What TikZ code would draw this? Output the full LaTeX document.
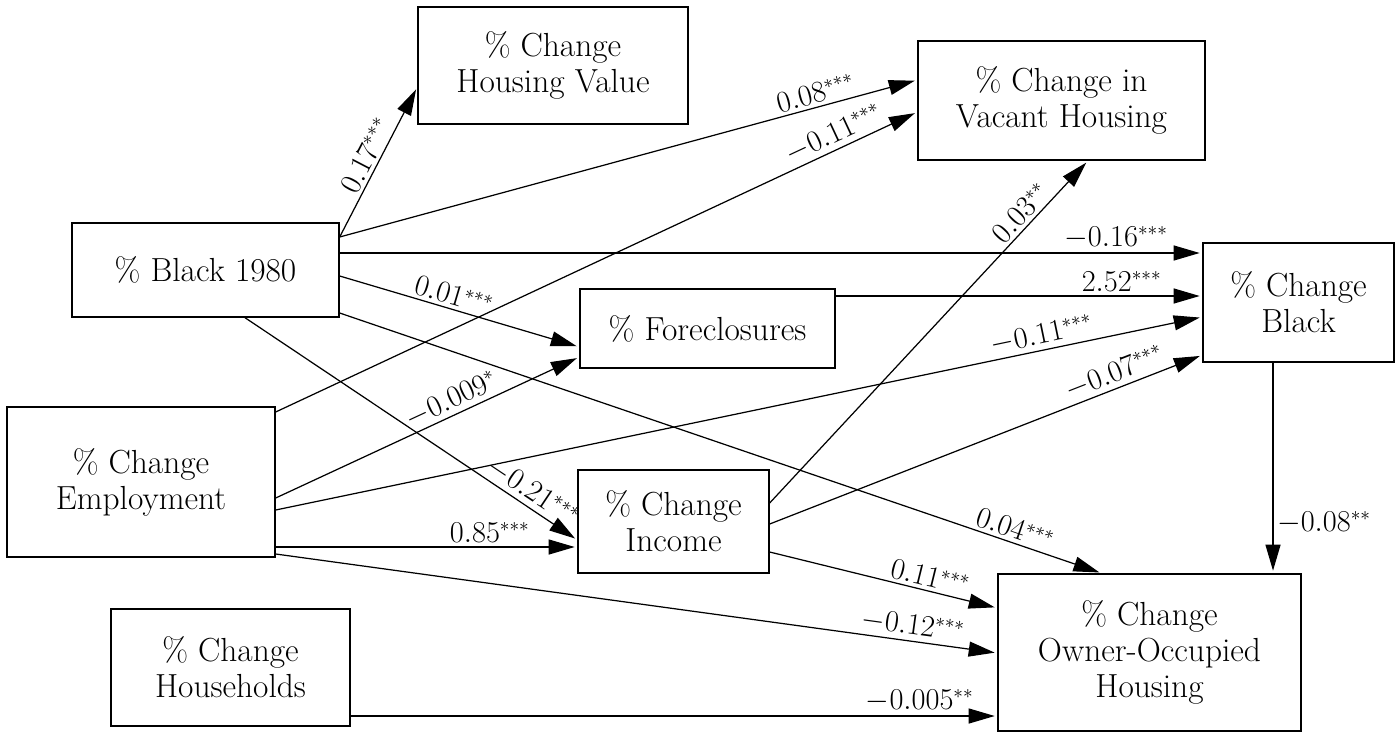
\documentclass[tikz,border=0pt]{standalone}
\usetikzlibrary{arrows.meta}
\begin{document}
\begin{tikzpicture}[x=0.02cm, y=-0.02cm,
    measure/.style={rectangle, draw, line width=0.8pt, align=center, inner sep=0pt,
      font=\fontsize{19}{20.5}\selectfont},
    effect/.style={-{Triangle[length=0.52cm,width=0.3cm]}, line width=0.7pt, shorten >=1.5pt},
    coef/.style={font=\fontsize{16}{18}\selectfont, inner sep=2pt}]
   \useasboundingbox (0,0) rectangle (1396,734);

   \node[measure, minimum width=5.4cm, minimum height=2.34cm] (HV) at (553,65.5) {\% Change\\Housing Value};
   \node[measure, minimum width=5.74cm, minimum height=2.38cm] (VH) at (1061.5,100.5) {\% Change in\\Vacant Housing};
   \node[measure, minimum width=5.34cm, minimum height=1.88cm] (B80) at (205.5,270) {\% Black 1980};
   \node[measure, minimum width=5.1cm, minimum height=1.58cm] (F) at (707.5,328.5) {\% Foreclosures};
   \node[measure, minimum width=3.82cm, minimum height=2.38cm] (CB) at (1298.5,302.5) {\% Change\\Black};
   \node[measure, minimum width=5.36cm, minimum height=3cm] (E) at (141,482) {\% Change\\Employment};
   \node[measure, minimum width=3.82cm, minimum height=2.06cm] (I) at (673.5,521.5) {\% Change\\Income};
   \node[measure, minimum width=4.78cm, minimum height=2.34cm] (H) at (230.5,667.5) {\% Change\\Households};
   \node[measure, minimum width=6.06cm, minimum height=3.14cm] (O) at (1149.5,652.5) {\% Change\\Owner-Occupied\\Housing};

   \draw[effect] (B80.east |- 0,237) -- (HV.west |- 0,87) node[coef, midway, above, sloped] {$0.17^{***}$};
   \draw[effect] (B80.east |- 0,237) -- (VH.west |- 0,80) node[coef, pos=0.83, above, sloped] {$0.08^{***}$};
   \draw[effect] (B80.east |- 0,253) -- (CB.west |- 0,253) node[coef, pos=0.9, above] {$-0.16^{***}$};
   \draw[effect] (B80.east |- 0,276) -- (F.west |- 0,347) node[coef, pos=0.46, above, sloped] {$0.01^{***}$};
   \draw[effect] (B80.east |- 0,313) -- (O.north -| 1102,0) node[coef, pos=0.88, above, sloped] {$0.04^{***}$};
   \draw[effect] (B80.south -| 245,0) -- (I.west |- 0,540) node[coef, pos=0.84, above, sloped] {$-0.21^{***}$};
   \draw[effect] (F.east |- 0,296) -- (CB.west |- 0,296) node[coef, pos=0.78, above] {$2.52^{***}$};
   \draw[effect] (E.east |- 0,412) -- (VH.west |- 0,112) node[coef, pos=0.88, above, sloped] {$-0.11^{***}$};
   \draw[effect] (E.east |- 0,498) -- (F.west |- 0,357) node[coef, pos=0.6, above, sloped] {$-0.009^{*}$};
   \draw[effect] (E.east |- 0,510) -- (CB.west |- 0,317) node[coef, pos=0.83, above, sloped] {$-0.11^{***}$};
   \draw[effect] (E.east |- 0,547) -- (I.west |- 0,547) node[coef, pos=0.71, above] {$0.85^{***}$};
   \draw[effect] (E.east |- 0,554) -- (O.west |- 0,653) node[coef, pos=0.88, above, sloped] {$-0.12^{***}$};
   \draw[effect] (I.east |- 0,503) -- (VH.south -| 1088,0) node[coef, pos=0.82, above, sloped] {$0.03^{**}$};
   \draw[effect] (I.east |- 0,524) -- (CB.west |- 0,355) node[coef, pos=0.81, above, sloped] {$-0.07^{***}$};
   \draw[effect] (I.east |- 0,552) -- (O.west |- 0,608) node[coef, pos=0.69, above, sloped] {$0.11^{***}$};
   \draw[effect] (H.east |- 0,716) -- (O.west |- 0,716) node[coef, pos=0.88, above] {$-0.005^{**}$};
   \draw[effect] (CB.south -| 1273,0) -- (O.north -| 1273,0) node[coef, pos=0.76, right] {$-0.08^{**}$};
\end{tikzpicture}
\end{document}
